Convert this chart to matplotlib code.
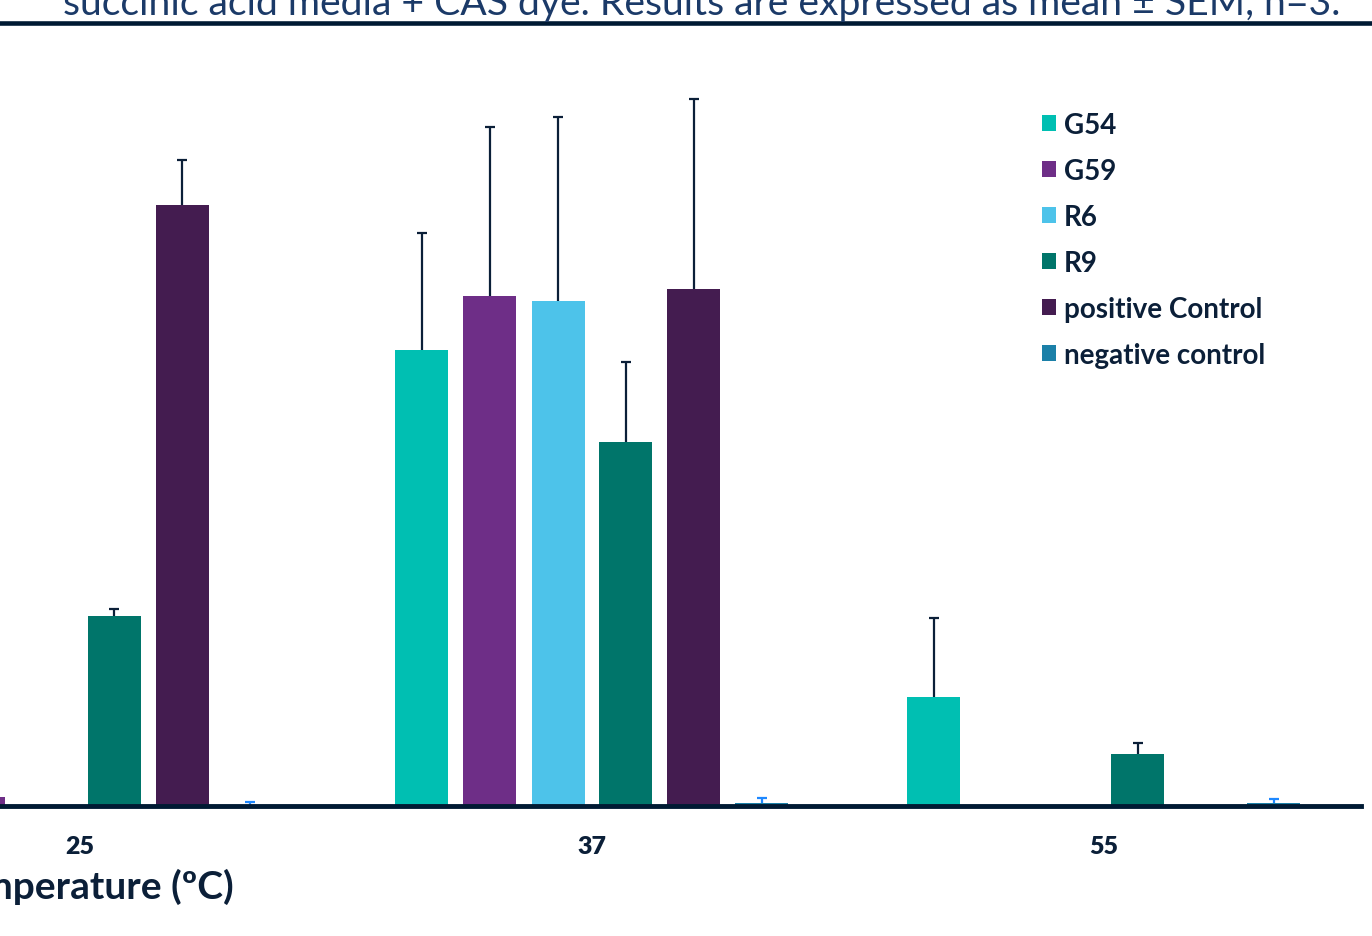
import numpy as np
import matplotlib
matplotlib.use('Agg')
import matplotlib.pyplot as plt

plt.rcParams['font.family'] = ['Lato', 'DejaVu Sans']

# data (arbitrary units, no y axis shown)
temperatures = ['25', '37', '55']
series = ['G54', 'G59', 'R6', 'R9', 'positive Control', 'negative control']
means = {
    'G54': [0.0, 45.6, 10.9],
    'G59': [0.9, 51.0, 0.0],
    'R6': [0.0, 50.5, 0.0],
    'R9': [19.0, 36.4, 5.2],
    'positive Control': [60.1, 51.7, 0.0],
    'negative control': [0.0, 0.3, 0.3],
}
sems = {
    'G54': [0.0, 11.7, 7.9],
    'G59': [0.0, 16.9, 0.0],
    'R6': [0.0, 18.4, 0.0],
    'R9': [0.7, 8.0, 1.1],
    'positive Control': [4.5, 19.0, 0.0],
    'negative control': [0.4, 0.5, 0.4],
}
colors = ['#00bfb2', '#6e2e87', '#4dc3ea', '#00756a', '#441c50', '#1b80a8']
err_colors = ['#0b1f38'] * 5 + ['#1e88ff']

W, H = 1372, 937
fig = plt.figure(figsize=(W / 100, H / 100), dpi=100)

# axes laid out in pixel terms; the picture is cropped on the left
base_px = 807
top_px = 61
right_px = 1361
ax = fig.add_axes([0, (H - base_px) / H, right_px / W, (base_px - top_px) / H])

group_px = 512.0
step = 68.0 / group_px
width = 53.0 / group_px
x = np.arange(len(temperatures))
for i, name in enumerate(series):
    pos = x + (i - 2.5) * step
    vals = np.array(means[name])
    err = np.array(sems[name])
    ax.bar(pos, vals, width, color=colors[i], label=name, zorder=2)
    mask = err > 0
    eb = ax.errorbar(pos[mask], vals[mask], yerr=[np.zeros(mask.sum()), err[mask]],
                     fmt='none', ecolor=err_colors[i], elinewidth=1.6,
                     capsize=3.6, capthick=1.6, zorder=3)
    # only the upper cap is drawn
    eb[1][0].set_visible(False)

ax.set_xlim(-80 / group_px, (right_px - 80) / group_px)
ax.set_ylim(0, (base_px - top_px) / 10)
for s in ['top', 'right', 'left']:
    ax.spines[s].set_visible(False)
ax.spines['bottom'].set_color('#001a33')
ax.spines['bottom'].set_linewidth(3.5)
ax.spines['bottom'].set_zorder(4)
ax.set_yticks([])
ax.set_xticks(x)
ax.set_xticklabels(temperatures)
ax.tick_params(axis='x', length=0, pad=21)
for lab in ax.get_xticklabels():
    lab.set_fontsize(18)
    lab.set_fontweight('heavy')
    lab.set_color('#0b1f38')

leg = ax.legend(loc='upper left', bbox_to_anchor=(1017 / right_px, (base_px - 88) / (base_px - top_px)),
                frameon=False, handlelength=0.5, handleheight=0.5, handletextpad=0.3,
                labelspacing=0.72, prop={'size': 20, 'weight': 'bold'})
for t in leg.get_texts():
    t.set_color('#0b1f38')

fig.text(234 / W, 1 - 887 / H, 'Temperature (\u00baC)', ha='right', va='center',
         fontsize=28, fontweight='bold', color='#0b1f38')

# caption, cut off at the top of the crop
fig.text(63 / W, 1 - 15 / H, 'succinic acid media + CAS dye. Results are expressed as mean \u00b1 SEM, n=3.',
         ha='left', va='baseline', fontsize=28.2, fontweight='normal', color='#1b3a68')
fig.add_artist(plt.Line2D([0, 1], [1 - 24 / H, 1 - 24 / H], color='#001a33', lw=3.3))

fig.savefig('out.png', dpi=100)
